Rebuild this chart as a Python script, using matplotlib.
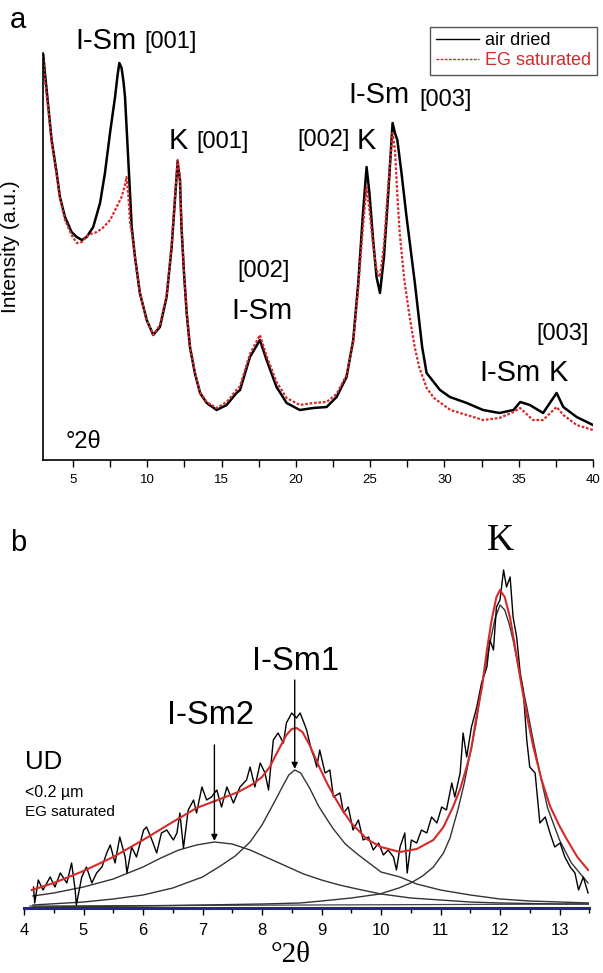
import matplotlib.pyplot as plt
from matplotlib.lines import Line2D

plt.rcParams['font.family'] = ['Liberation Sans', 'DejaVu Sans']

W, H = 603, 973

# ---- panel a : whole pattern, air dried vs EG saturated ----
air_x = [3.0, 3.11, 3.34, 3.56, 3.9, 4.12, 4.46, 4.9, 5.25, 5.6,
         5.92, 6.36, 6.82, 7.15, 7.49, 7.83, 8.0, 8.12, 8.27, 8.4,
         8.5, 8.65, 8.79, 8.95, 9.17, 9.5, 9.96, 10.4, 10.85, 11.3,
         11.64, 11.86, 12.04, 12.2, 12.3, 12.47, 12.65, 12.87, 13.2, 13.55,
         14.0, 14.67, 15.34, 16.0, 16.24, 16.91, 17.58, 18.03, 18.7, 19.38,
         20.27, 21.17, 22.07, 22.74, 23.41, 23.86, 24.2, 24.5, 24.76, 24.95,
         25.2, 25.43, 25.66, 25.93, 26.22, 26.51, 26.67, 26.83, 27.11, 27.45,
         28.01, 28.5, 28.8, 29.7, 30.37, 31.5, 32.6, 33.7, 34.65, 35.1,
         35.75, 36.64, 37.55, 38.0, 38.9, 40.0]
air_y = [405, 387, 353, 320, 287, 263, 243, 228, 223, 220,
         223, 233, 257, 287, 327, 363, 385, 397, 392, 378,
         363, 320, 280, 233, 203, 167, 140, 125, 133, 163,
         213, 260, 298, 280, 233, 187, 147, 113, 87, 67,
         57, 50, 55, 67, 70, 103, 120, 100, 73, 57,
         50, 52, 53, 63, 83, 120, 177, 243, 293, 267,
         220, 183, 167, 203, 267, 337, 327, 320, 287, 243,
         177, 113, 87, 70, 63, 57, 50, 47, 50, 58,
         55, 47, 67, 53, 43, 35]

eg_x = [3.0, 3.11, 3.34, 3.56, 3.9, 4.12, 4.46, 4.9, 5.25, 5.6,
        6.0, 6.6, 7.0, 7.5, 7.9, 8.27, 8.5, 8.6, 8.72, 8.84,
        8.95, 9.17, 9.5, 9.96, 10.4, 10.85, 11.3, 11.64, 11.86, 12.04,
        12.2, 12.3, 12.47, 12.65, 12.87, 13.2, 13.55, 14.0, 14.67, 15.34,
        16.0, 16.24, 16.91, 17.58, 18.03, 18.7, 19.38, 20.27, 21.17, 22.07,
        22.74, 23.41, 23.86, 24.2, 24.5, 24.76, 24.95, 25.2, 25.43, 25.66,
        25.93, 26.22, 26.51, 26.67, 26.83, 26.99, 27.3, 27.66, 28.0, 28.3,
        28.8, 29.3, 30.4, 31.5, 32.6, 33.7, 34.65, 35.1, 35.95, 36.64,
        37.55, 38.0, 38.9, 40.0]
eg_y = [400, 380, 350, 318, 285, 262, 240, 225, 217, 218,
        225, 228, 232, 240, 252, 263, 275, 283, 265, 237,
        228, 203, 167, 140, 125, 135, 165, 215, 262, 300,
        282, 235, 188, 148, 115, 88, 68, 58, 52, 58,
        70, 74, 106, 125, 104, 78, 62, 55, 57, 58,
        66, 85, 118, 172, 230, 273, 250, 215, 190, 183,
        215, 275, 327, 310, 265, 227, 180, 143, 113, 93,
        72, 62, 50, 45, 40, 42, 48, 52, 40, 40,
        53, 45, 35, 30]

# ---- panel b : 4-13.5 deg decomposition ----
obs_x = [4.16, 4.18, 4.24, 4.32, 4.44, 4.52, 4.61, 4.72, 4.80, 4.86,
         4.88, 4.97, 5.05, 5.14, 5.22, 5.31, 5.39, 5.45, 5.53, 5.61,
         5.70, 5.73, 5.81, 5.89, 6.01, 6.06, 6.15, 6.23, 6.31, 6.40,
         6.51, 6.57, 6.62, 6.68, 6.76, 6.85, 6.90, 6.99, 7.07, 7.15,
         7.24, 7.32, 7.41, 7.52, 7.63, 7.74, 7.80, 7.88, 7.97, 8.05,
         8.11, 8.19, 8.27, 8.36, 8.41, 8.50, 8.58, 8.64, 8.70, 8.75,
         8.83, 8.88, 8.92, 8.97, 9.06, 9.14, 9.20, 9.31, 9.37, 9.45,
         9.53, 9.62, 9.70, 9.79, 9.87, 9.96, 10.04, 10.12, 10.21, 10.26,
         10.32, 10.40, 10.44, 10.51, 10.60, 10.68, 10.77, 10.85, 10.94, 11.02,
         11.10, 11.19, 11.24, 11.33, 11.38, 11.44, 11.52, 11.61, 11.69, 11.78,
         11.83, 11.89, 11.94, 12.00, 12.06, 12.11, 12.17, 12.22, 12.28, 12.34,
         12.39, 12.45, 12.50, 12.59, 12.67, 12.76, 12.84, 12.92, 13.01, 13.09,
         13.18, 13.26, 13.32, 13.40, 13.48]
obs_y = [21, 5, 28, 18, 31, 21, 35, 25, 45, 18,
         3, 31, 41, 25, 35, 41, 55, 63, 45, 71,
         51, 35, 61, 51, 78, 81, 68, 55, 75, 78,
         68, 75, 95, 60, 98, 108, 95, 121, 108, 111,
         118, 101, 121, 105, 121, 128, 141, 121, 145, 135,
         118, 168, 175, 165, 185, 195, 190, 195, 186, 178,
         158, 150, 141, 158, 135, 138, 111, 115, 95, 101,
         78, 88, 68, 71, 58, 65, 53, 58, 51, 38,
         61, 75, 35, 68, 65, 78, 75, 91, 85, 101,
         98, 125, 111, 135, 175, 151, 181, 201, 225, 241,
         268, 258, 301, 308, 338, 321, 331, 291, 271, 235,
         218, 168, 141, 135, 85, 91, 75, 61, 65, 51,
         41, 35, 18, 31, 15]

fit_x = [4.13, 4.5, 5.0, 5.5, 6.0, 6.5, 6.9, 7.3, 7.6, 7.85,
         8.0, 8.13, 8.25, 8.41, 8.5, 8.58, 8.68, 8.8, 8.97, 9.1,
         9.2, 9.35, 9.5, 9.76, 10.0, 10.32, 10.6, 10.88, 11.05, 11.21,
         11.33, 11.44, 11.52, 11.6, 11.7, 11.78, 11.86, 11.94, 12.0, 12.08,
         12.17, 12.25, 12.34, 12.45, 12.56, 12.7, 12.84, 13.0, 13.12, 13.3,
         13.48]
fit_y = [18, 25, 37, 51, 68, 86, 100, 109, 116, 124,
         131, 141, 155, 173, 179, 180, 176, 163, 140, 124,
         113, 98, 85, 69, 61, 56, 59, 68, 81, 101,
         119, 141, 160, 190, 222, 258, 288, 311, 318, 311,
         290, 262, 230, 193, 161, 128, 102, 82, 69, 51,
         38]

ism2_x = [4.15, 4.5, 5.0, 5.5, 6.0, 6.3, 6.6, 6.9, 7.2, 7.5,
          7.8, 8.1, 8.4, 8.7, 9.0, 9.3, 9.6, 10.0, 10.5, 11.0,
          11.5, 12.0, 12.5, 13.0, 13.5]
ism2_y = [12, 15, 21, 29, 41, 50, 58, 63, 66, 64,
          58, 50, 42, 34, 28, 23, 19, 14, 10, 8,
          6, 5, 4.5, 4, 4]

ism1_x = [4.15, 5.0, 5.5, 6.0, 6.5, 7.0, 7.3, 7.55, 7.8, 8.0,
          8.2, 8.35, 8.45, 8.55, 8.65, 8.8, 8.95, 9.1, 9.2, 9.4,
          9.6, 9.8, 10.0, 10.32, 10.6, 11.0, 11.5, 12.0, 12.5, 13.0,
          13.5]
ism1_y = [3, 6, 9, 13, 20, 31, 42, 52, 66, 83,
          105, 122, 133, 138, 135, 120, 102, 88, 79, 64,
          54, 45, 36, 31, 24, 18, 13, 9, 7, 6,
          5]

k_x = [4.15, 6.0, 7.0, 8.0, 8.64, 9.0, 9.5, 9.98, 10.3, 10.5,
       10.7, 10.88, 11.05, 11.16, 11.3, 11.4, 11.5, 11.6, 11.7, 11.84,
       11.92, 12.0, 12.08, 12.15, 12.22, 12.33, 12.45, 12.55, 12.67, 12.8,
       13.0, 13.2, 13.48]
k_y = [1, 2, 3, 4, 5, 7, 10, 14, 20, 25,
       32, 41, 55, 70, 100, 125, 155, 185, 225, 268,
       290, 303, 298, 285, 268, 235, 201, 170, 135, 100,
       68, 45, 25]

bg_x = [4.1, 13.5]
bg_y = [2, 4]


def fx(px):
    return px / W


def fy(py):
    return 1 - py / H


fig = plt.figure(figsize=(W / 100, H / 100), dpi=100)

# ================= a =================
ax1 = fig.add_axes([fx(43.3), fy(460), (593 - 43.3) / W, 407 / H])
ax1.plot(air_x, air_y, color='black', lw=1.8, label='air dried')
ax1.plot(eg_x, eg_y, color='#d42a2a', lw=1.6, ls=(0, (1.2, 0.8)), label='EG saturated')
ax1.set_xlim(3, 40)
ax1.set_ylim(0, 407)
ax1.set_xticks(range(5, 41, 5))
ax1.set_xticks([x + 2.5 for x in range(5, 40, 5)], minor=True)
ax1.set_yticks([])
for s in ['top', 'right']:
    ax1.spines[s].set_visible(False)
ax1.spines['left'].set_linewidth(1.2)
ax1.spines['bottom'].set_linewidth(1.2)
ax1.tick_params(axis='x', which='both', direction='out', length=5, width=1, labelsize=9.5, pad=5)
ax1.set_ylabel('Intensity (a.u.)', fontsize=15)
ax1.yaxis.set_label_coords((20 - 43.3) / 549.7, (460 - 247) / 407)

leg_handles = [Line2D([], [], color='black', lw=1),
               Line2D([], [], color='#d42a2a', lw=1, ls=(0, (2, 1)))]
fig.legend(leg_handles, ['air dried', 'EG saturated'], loc='upper right',
           bbox_to_anchor=(fx(597), fy(27)), fontsize=13, frameon=True,
           fancybox=False, edgecolor='#555555', framealpha=1,
           handlelength=2.4, handletextpad=0.35, borderpad=0.3,
           labelspacing=0.15, borderaxespad=0, labelcolor=['black', '#d42a2a'])

# peak labels (px positions)
big, small = 21, 17
fig.text(fx(10), fy(20), 'a', fontsize=21, va='center')
fig.text(fx(75), fy(41), 'I-Sm', fontsize=big, va='center')
fig.text(fx(144), fy(42), '[001]', fontsize=small, va='center')
fig.text(fx(169), fy(141), 'K', fontsize=big, va='center')
fig.text(fx(196), fy(142), '[001]', fontsize=small, va='center')
fig.text(fx(297), fy(140), '[002]', fontsize=small, va='center')
fig.text(fx(357), fy(141), 'K', fontsize=big, va='center')
fig.text(fx(348), fy(95), 'I-Sm', fontsize=big, va='center')
fig.text(fx(419), fy(100), '[003]', fontsize=small, va='center')
fig.text(fx(237), fy(271), '[002]', fontsize=small, va='center')
fig.text(fx(231), fy(311), 'I-Sm', fontsize=big, va='center')
fig.text(fx(536), fy(334), '[003]', fontsize=small, va='center')
fig.text(fx(479), fy(373), 'I-Sm', fontsize=big, va='center')
fig.text(fx(549), fy(373), 'K', fontsize=big, va='center')
fig.text(fx(66), fy(442), '°2θ', fontsize=17, va='center')

# ================= b =================
ax2 = fig.add_axes([fx(24), fy(908), (589.25 - 24) / W, 408 / H])
ax2.plot(bg_x, bg_y, color='#444444', lw=0.9)
ax2.plot(ism2_x, ism2_y, color='#333333', lw=1.0)
ax2.plot(ism1_x, ism1_y, color='#333333', lw=1.0)
ax2.plot(k_x, k_y, color='#333333', lw=1.0)
ax2.plot(obs_x, obs_y, color='black', lw=1.0)
ax2.plot(fit_x, fit_y, color='#d42a2a', lw=1.5)
ax2.plot([4, 13.5], [0, 0], color='#25258f', lw=2.2, clip_on=False, zorder=5)
ax2.set_xlim(4, 13.5)
ax2.set_ylim(0, 408)
ax2.set_xticks(range(4, 14))
ax2.set_xticks([x + 0.5 for x in range(4, 14)], minor=True)
ax2.set_yticks([])
for s in ['top', 'right', 'left']:
    ax2.spines[s].set_visible(False)
ax2.tick_params(axis='x', which='major', direction='out', length=5, width=1, labelsize=12, pad=6)
ax2.tick_params(axis='x', which='minor', direction='out', length=3.5, width=1)

arrow = dict(arrowstyle='-|>', lw=1, color='black', mutation_scale=9, shrinkA=0, shrinkB=0)
ax2.annotate('', xy=(8.55, 139), xytext=(8.55, 228), arrowprops=arrow)
ax2.annotate('', xy=(7.2, 67), xytext=(7.2, 163), arrowprops=arrow)

fig.text(fx(10), fy(543), 'b', fontsize=21, va='center')
fig.text(fx(500), fy(541), 'K', fontsize=27, family='Liberation Serif', ha='center', va='center')
fig.text(fx(296), fy(661), 'I-Sm1', fontsize=23.5, ha='center', va='center')
fig.text(fx(210), fy(716), 'I-Sm2', fontsize=23.5, ha='center', va='center')
fig.text(fx(25), fy(762), 'UD', fontsize=18.5, va='center')
fig.text(fx(25), fy(792), '<0.2 µm', fontsize=11.5, va='center')
fig.text(fx(25), fy(812), 'EG saturated', fontsize=11, va='center')
fig.text(fx(291), fy(955), '°2θ', fontsize=21, family='Liberation Serif', ha='center', va='center')

fig.savefig('out.png', dpi=100)
